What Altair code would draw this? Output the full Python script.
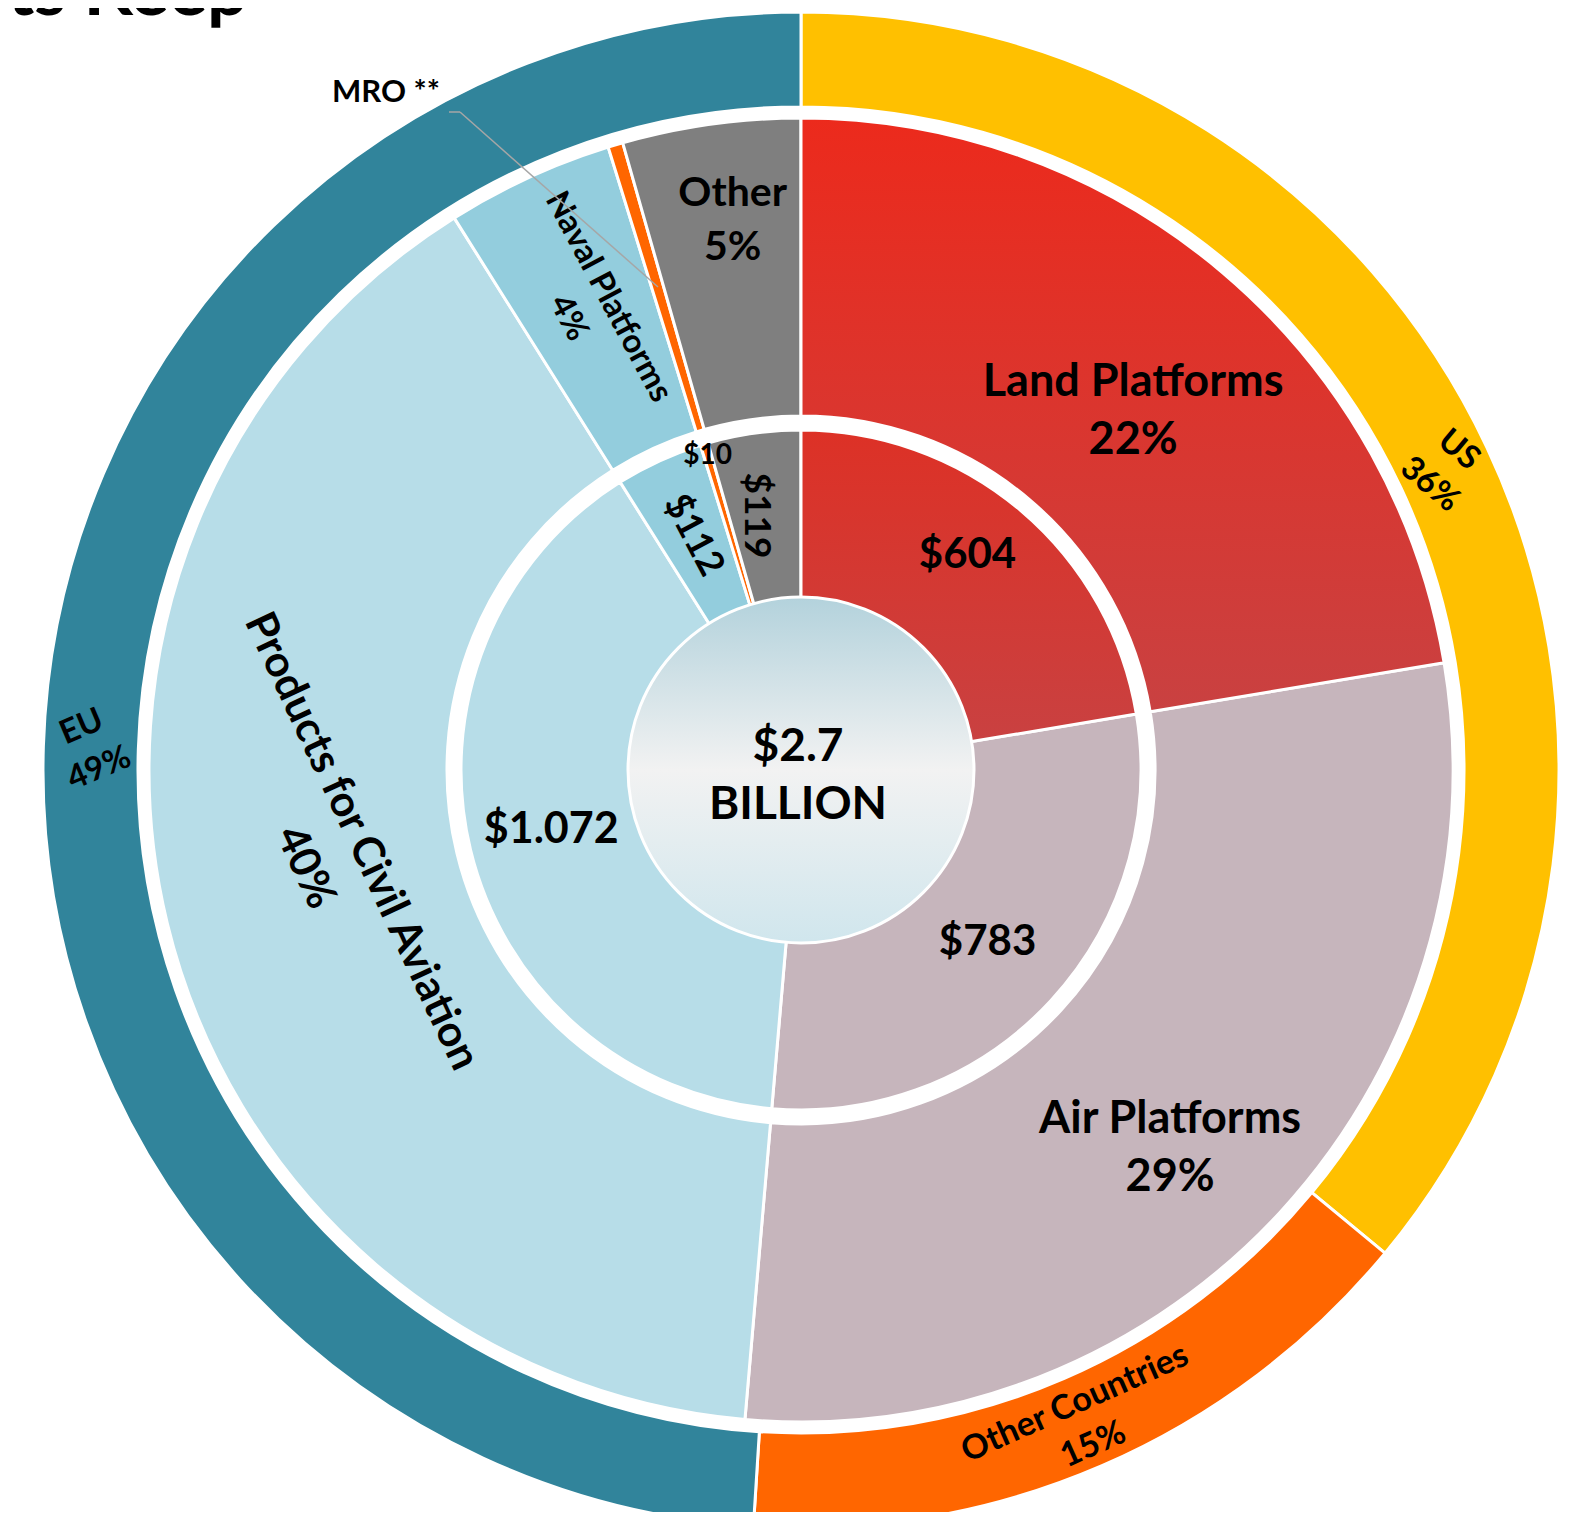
import math
import altair as alt
import pandas as pd

# ---------------- data ----------------
regions = ["US", "Other Countries", "EU"]
region_pct = [36, 15, 49]
region_colors = ["#FFC000", "#FF6600", "#31849B"]

segments = ["Land Platforms", "Air Platforms", "Products for Civil Aviation",
            "Naval Platforms", "MRO **", "Other"]
segment_values = [604, 783, 1072, 112, 10, 119]
segment_pct = [22, 29, 40, 4, 0, 5]
segment_value_labels = ["$604", "$783", "$1.072", "$112", "$10", "$119"]
segment_colors = ["#DA3330", "#C6B5BC", "#B7DDE8", "#93CDDD", "#FF6600", "#7F7F7F"]

total_value = [2700]
total_label = ["$2.7", "BILLION"]
title_fragment = "ts Keep"

# ---------------- layout ----------------
CX, CY = 793, 762
FONT = "Lato"
TOTAL = sum(segment_values)

outer_df = pd.DataFrame({"category": regions, "value": region_pct,
                         "order": list(range(len(regions)))})
seg_df = pd.DataFrame({"category": segments, "value": segment_values,
                       "pct": segment_pct, "vlabel": segment_value_labels,
                       "order": list(range(len(segments)))})
total_df = pd.DataFrame({"value": total_value, "label": ["\n".join(total_label)]})

land_grad = alt.LinearGradient(
    gradient="linear",
    stops=[alt.GradientStop(color="#EC2A1C", offset=0),
           alt.GradientStop(color="#C94141", offset=1)],
    x1=0, x2=0, y1=0, y2=1)
land_grad_inner = alt.LinearGradient(
    gradient="linear",
    stops=[alt.GradientStop(color="#DD3126", offset=0),
           alt.GradientStop(color="#C94141", offset=1)],
    x1=0, x2=0, y1=0, y2=1)
center_grad = alt.LinearGradient(
    gradient="linear",
    stops=[alt.GradientStop(color="#B3D2DC", offset=0),
           alt.GradientStop(color="#F2F2F2", offset=0.5),
           alt.GradientStop(color="#D0E6ED", offset=1)],
    x1=0, x2=0, y1=0, y2=1)


def ring(df, domain, colors, r_out, r_in):
    return alt.Chart(df).mark_arc(radius=r_out, radius2=r_in, stroke="white",
                                  strokeWidth=3).encode(
        x=alt.value(CX), y=alt.value(CY),
        theta=alt.Theta("value:Q", stack=True),
        order=alt.Order("order:Q"),
        fill=alt.Fill("category:N", scale=alt.Scale(domain=domain, range=colors),
                      legend=None),
    )


def land_overlay(df, r_out, r_in, grad):
    return alt.Chart(df).mark_arc(radius=r_out, radius2=r_in, fill=grad,
                                  stroke="white", strokeWidth=3).encode(
        x=alt.value(CX), y=alt.value(CY),
        theta=alt.Theta("value:Q", stack=True),
        order=alt.Order("order:Q"),
        opacity=alt.condition(alt.datum.category == "Land Platforms",
                              alt.value(1), alt.value(0)),
    )


def label(df, total, cat, expr, radius, size, angle=0, dx=0, dy=0, lh=None,
          lines=1):
    # Vega anchors the first line; shift so the block is centred on the anchor
    shift = (lines - 1) * (lh or size) / 2
    kw = dict(radius=radius, fontSize=size, font=FONT, fontWeight="bold",
              color="black", align="center", baseline="middle",
              angle=angle % 360, dx=dx, dy=dy - shift, lineBreak="\n")
    if lh:
        kw["lineHeight"] = lh
    return (alt.Chart(df)
            .transform_window(cum="sum(value)", sort=[alt.SortField("order")],
                              frame=[None, 0])
            .transform_calculate(mid="datum.cum - datum.value / 2", label=expr)
            .transform_filter(alt.datum.category == cat)
            .mark_text(**kw)
            .encode(x=alt.value(CX), y=alt.value(CY),
                    theta=alt.Theta("mid:Q", scale=alt.Scale(domain=[0, total],
                                                             range=[0, 2 * math.pi])),
                    text="label:N"))


outer = ring(outer_df, regions, region_colors, 758, 663)
middle = ring(seg_df, segments, segment_colors, 652, 354)
middle_land = land_overlay(seg_df, 652, 354, land_grad)
inner = ring(seg_df, segments, segment_colors, 340, 170)
inner_land = land_overlay(seg_df, 340, 170, land_grad_inner)

center = alt.Chart(total_df).mark_arc(radius=173, fill=center_grad, stroke="white",
                                      strokeWidth=3).encode(
    x=alt.value(CX), y=alt.value(CY), theta=alt.Theta("value:Q"))
center_text = alt.Chart(total_df).mark_text(
    font=FONT, fontWeight="bold", fontSize=46, lineBreak="\n", lineHeight=58,
    align="center", baseline="middle", color="black").encode(
    x=alt.value(CX - 3), y=alt.value(CY + 6 - 29), text="label:N")

out_expr = "datum.category + '\\n' + datum.value + '%'"
mid_expr = "datum.category + '\\n' + datum.pct + '%'"
in_expr = "datum.vlabel"

labels = [
    label(outer_df, 100, "US", out_expr, 711, 33, angle=40, lh=45, lines=2),
    label(outer_df, 100, "Other Countries", out_expr, 713, 34, angle=-24, lh=45,
          lines=2),
    label(outer_df, 100, "EU", out_expr, 711, 33, angle=-23, lh=45, lines=2),
    label(seg_df, TOTAL, "Land Platforms", mid_expr, 489, 45, dx=16, dy=14, lh=58,
          lines=2),
    label(seg_df, TOTAL, "Air Platforms", mid_expr, 527, 45, dx=-18, dy=20, lh=58,
          lines=2),
    label(seg_df, TOTAL, "Products for Civil Aviation", mid_expr, 476, 43, angle=65,
          dx=-27, dy=-7, lh=62, lines=2),
    label(seg_df, TOTAL, "Naval Platforms", mid_expr, 509, 33, angle=62, lh=45,
          lines=2),
    label(seg_df, TOTAL, "Other", mid_expr, 553, 41, dx=8, dy=-1, lh=54, lines=2),
    label(seg_df, TOTAL, "Land Platforms", in_expr, 270, 42, dx=-8, dy=-9),
    label(seg_df, TOTAL, "Air Platforms", in_expr, 254, 42),
    label(seg_df, TOTAL, "Products for Civil Aviation", in_expr, 257, 43),
    label(seg_df, TOTAL, "Naval Platforms", in_expr, 258, 37, angle=62),
    label(seg_df, TOTAL, "MRO **", in_expr, 328, 28),
    label(seg_df, TOTAL, "Other", in_expr, 258, 37, angle=90, dx=1, dy=9),
]

mro_label = alt.Chart(seg_df).transform_filter(
    alt.datum.category == "MRO **").mark_text(
    font=FONT, fontWeight="bold", fontSize=31, align="center", baseline="middle",
    color="black").encode(x=alt.value(378), y=alt.value(85), text="category:N")
leader1 = alt.Chart(total_df).mark_rule(color="#A6A6A6", strokeWidth=1.5).encode(
    x=alt.value(441), y=alt.value(104), x2=alt.value(452), y2=alt.value(104))
leader2 = alt.Chart(total_df).mark_rule(color="#A6A6A6", strokeWidth=1.5).encode(
    x=alt.value(452), y=alt.value(104), x2=alt.value(650), y2=alt.value(279))

title = alt.Chart(pd.DataFrame({"t": [title_fragment]})).mark_text(
    font=FONT, fontWeight="bold", fontSize=72, align="right",
    baseline="alphabetic", color="black").encode(
    x=alt.value(240), y=alt.value(7), text="t:N")

chart = alt.layer(
    outer, middle, middle_land, inner, inner_land, center, center_text,
    *labels, leader1, leader2, mro_label, title
).resolve_scale(
    theta="independent", fill="independent"
).properties(
    width=1567, height=1504, autosize=alt.AutoSizeParams(type="none"), padding=0,
    background="white"
).configure_view(stroke=None)

chart.save("out.html", embed_options={"renderer": "svg", "actions": False})
